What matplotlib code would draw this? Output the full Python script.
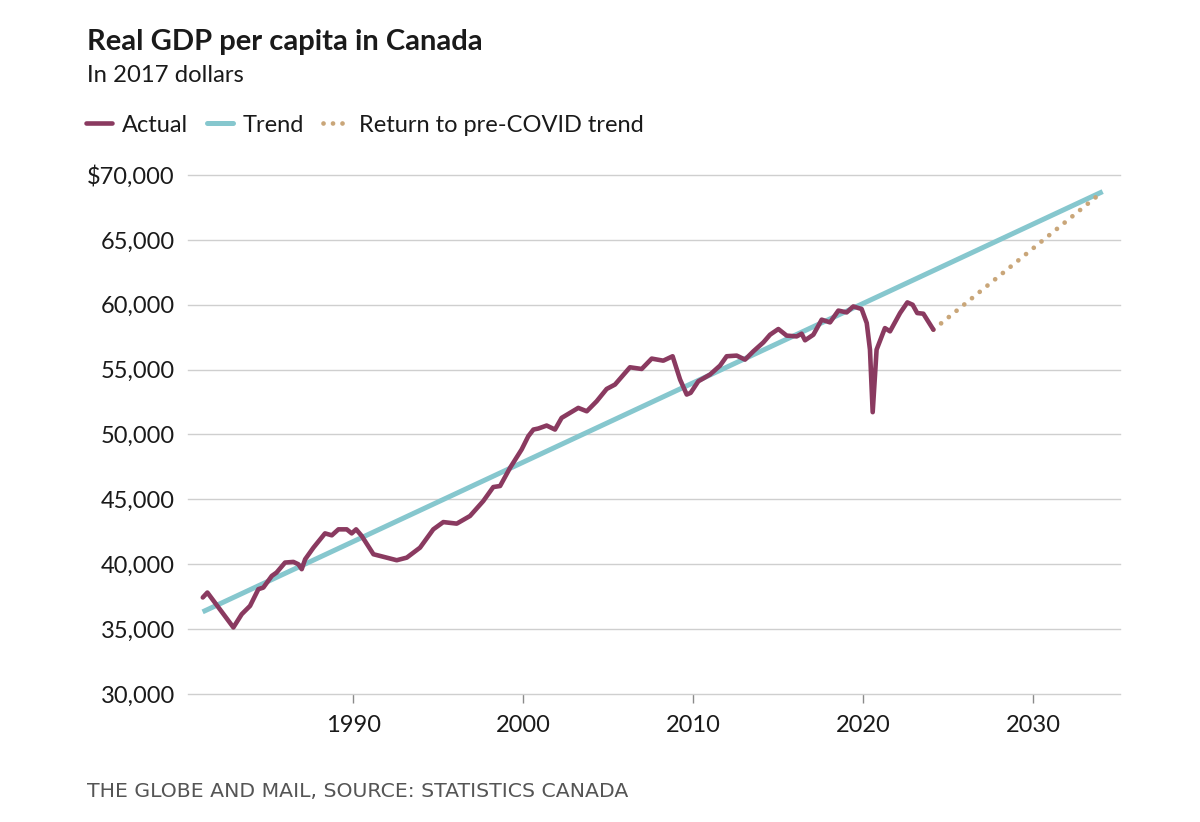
import matplotlib
matplotlib.use("Agg")
import matplotlib.pyplot as plt
from matplotlib.lines import Line2D
from matplotlib.ticker import FuncFormatter

# ---------------- data ----------------
actual_years = [1981.16, 1981.43, 1982.96, 1983.45, 1983.94, 1984.43, 1984.72, 1985.22,
                1985.50, 1986.00, 1986.49, 1986.78, 1986.98, 1987.18, 1987.67, 1988.35,
                1988.75, 1989.14, 1989.63, 1989.92, 1990.18, 1990.51, 1991.20, 1991.59,
                1992.57, 1993.16, 1993.94, 1994.72, 1995.31, 1996.10, 1996.88, 1997.66,
                1998.25, 1998.65, 1999.24, 1999.92, 2000.31, 2000.61, 2000.90, 2001.39,
                2001.88, 2002.27, 2003.25, 2003.75, 2004.33, 2004.92, 2005.41, 2006.29,
                2006.98, 2007.57, 2008.25, 2008.80, 2009.24, 2009.63, 2009.86, 2010.31,
                2011.00, 2011.59, 2011.98, 2012.57, 2013.06, 2013.55, 2014.14, 2014.53,
                2015.02, 2015.51, 2016.10, 2016.39, 2016.59, 2017.08, 2017.57, 2018.06,
                2018.55, 2019.04, 2019.43, 2019.92, 2020.22, 2020.41, 2020.57, 2020.80,
                2021.29, 2021.59, 2022.18, 2022.61, 2022.92, 2023.19, 2023.55, 2024.14]
actual_values = [37440, 37820, 35130, 36150, 36790, 38080, 38200, 39100,
                 39360, 40130, 40180, 40000, 39620, 40380, 41280, 42380,
                 42230, 42690, 42690, 42380, 42690, 42180, 40770, 40640,
                 40310, 40510, 41280, 42690, 43250, 43130, 43720, 44870,
                 45950, 46030, 47440, 48850, 49870, 50380, 50460, 50690,
                 50380, 51280, 52050, 51790, 52560, 53510, 53850, 55180,
                 55050, 55850, 55690, 56030, 54230, 53080, 53210, 54100,
                 54620, 55310, 56030, 56080, 55770, 56410, 57100, 57690,
                 58130, 57620, 57560, 57770, 57260, 57690, 58850, 58640,
                 59550, 59410, 59870, 59670, 58590, 56540, 51720, 56540,
                 58200, 57950, 59360, 60180, 60000, 59360, 59310, 58080]

trend_years = [1981.15, 2034.1]
trend_values = [36330, 68720]

return_years = [2024.14, 2034.1]
return_values = [58080, 68720]

y_ticks = [30000, 35000, 40000, 45000, 50000, 55000, 60000, 65000, 70000]
x_ticks = [1990, 2000, 2010, 2020, 2030]

title = "Real GDP per capita in Canada"
subtitle = "In 2017 dollars"
series_labels = ["Actual", "Trend", "Return to pre-COVID trend"]
footer = "THE GLOBE AND MAIL, SOURCE: STATISTICS CANADA"

# ---------------- style ----------------
C_ACTUAL = "#8a3a60"
C_TREND = "#86c7ce"
C_RETURN = "#c9a679"
C_GRID = "#cfcfcf"
C_TEXT = "#1a1a1a"

plt.rcParams["font.family"] = ["Lato", "DejaVu Sans"]

fig = plt.figure(figsize=(12, 8.22), dpi=100)
ax = fig.add_axes([0.15667, 0.15572, 0.77667, 0.63139])

ax.plot(trend_years, trend_values, color=C_TREND, lw=3.6, solid_capstyle="butt", zorder=2)
ax.plot(return_years, return_values, color=C_RETURN, lw=3.4,
        linestyle=(0, (0.01, 2.1)), dash_capstyle="round", zorder=2)
ax.plot(actual_years, actual_values, color=C_ACTUAL, lw=3.3,
        solid_joinstyle="round", solid_capstyle="round", zorder=3)

ax.set_xlim(1980.29, 2035.12)
ax.set_ylim(30000, 70000)

ax.set_yticks(y_ticks)
ax.yaxis.set_major_formatter(FuncFormatter(
    lambda v, p: f"${v:,.0f}" if v == max(y_ticks) else f"{v:,.0f}"))
ax.set_xticks(x_ticks)

ax.grid(axis="y", color=C_GRID, lw=1.0)
ax.grid(axis="x", visible=False)
for gl in ax.get_ygridlines():
    gl.set_clip_on(False)
ax.set_axisbelow(True)
for s in ax.spines.values():
    s.set_visible(False)

ax.tick_params(axis="y", length=0, pad=9.5, labelsize=17, labelcolor=C_TEXT)
ax.tick_params(axis="x", length=6.2, width=1.0, color="#8a8a8a", pad=9,
               labelsize=17, labelcolor=C_TEXT)

# titles
fig.text(0.0725, 1 - 50 / 822, title, fontsize=21, fontweight="bold",
         color=C_TEXT, va="baseline", ha="left")
fig.text(0.0725, 1 - 82 / 822, subtitle, fontsize=17.2, color=C_TEXT,
         va="baseline", ha="left")

# legend
handles = [
    Line2D([], [], color=C_ACTUAL, lw=3.3, solid_capstyle="round"),
    Line2D([], [], color=C_TREND, lw=3.6, solid_capstyle="round"),
    Line2D([], [], color=C_RETURN, lw=3.4, linestyle=(0, (0.01, 2.0)),
           dash_capstyle="round"),
]
fig.legend(handles, series_labels, loc="center left",
           bbox_to_anchor=(0.0715, 1 - 125 / 822), ncol=3, frameon=False,
           fontsize=17, handlelength=1.1, handletextpad=0.42,
           columnspacing=0.8, borderpad=0, borderaxespad=0, labelcolor=C_TEXT)

# footer
fig.text(0.0725, 1 - 797 / 822, footer, fontsize=14.7, color="#555555",
         family=["DejaVu Sans"], va="baseline", ha="left")

fig.savefig("out.png", dpi=100, facecolor="white")
